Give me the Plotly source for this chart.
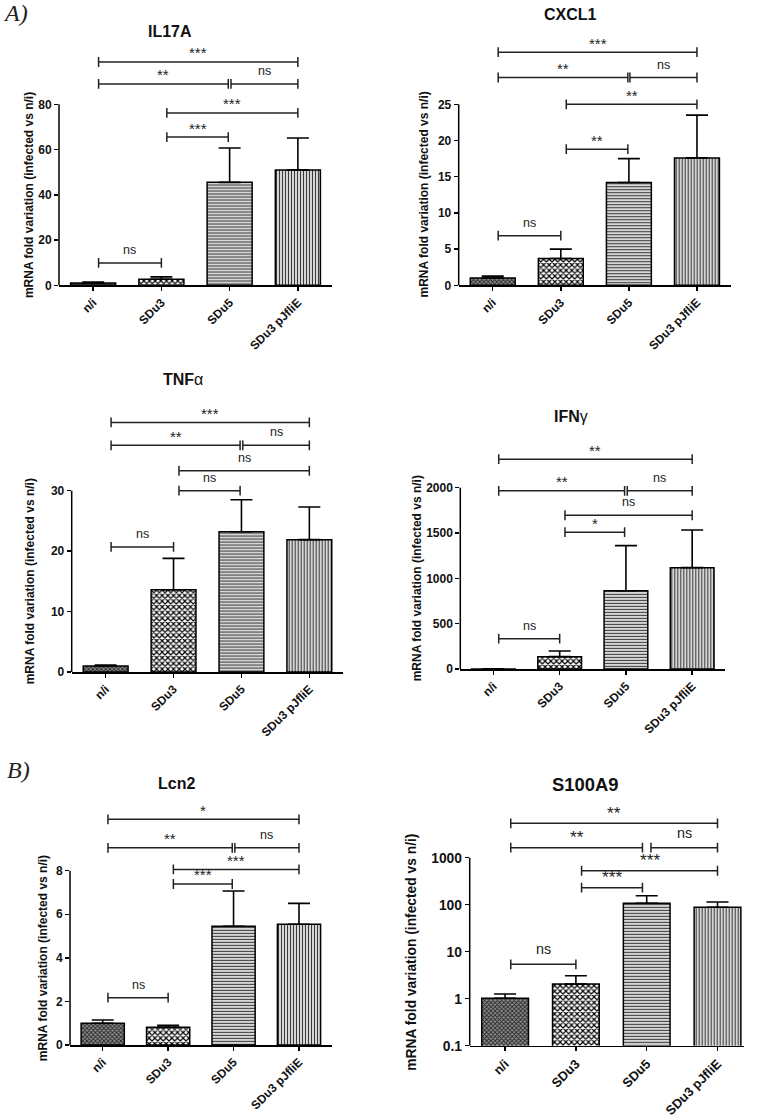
import numpy as np
import plotly.graph_objects as go

W, H = 764, 1120

categories = ["n/i", "SDu3", "SDu5", "SDu3 pJfliE"]

# bar means and SEM (upper error only)
il17a_mean = [1.0, 2.7, 45.5, 51.0]
il17a_sem = [0.4, 1.0, 15.2, 14.1]
cxcl1_mean = [1.0, 3.7, 14.2, 17.6]
cxcl1_sem = [0.27, 1.3, 3.3, 5.9]
tnfa_mean = [1.0, 13.6, 23.2, 21.9]
tnfa_sem = [0.15, 5.2, 5.3, 5.4]
ifng_mean = [1.0, 136, 864, 1118]
ifng_sem = [0.3, 63, 497, 416]
lcn2_mean = [1.0, 0.81, 5.45, 5.54]
lcn2_sem = [0.15, 0.09, 1.62, 0.96]
s100a9_mean = [1.02, 2.06, 107, 88]
s100a9_sem = [0.24, 1.02, 48, 26]

# y tick values
il17a_ticks = [0, 20, 40, 60, 80]
cxcl1_ticks = [0, 5, 10, 15, 20, 25]
tnfa_ticks = [0, 10, 20, 30]
ifng_ticks = [0, 500, 1000, 1500, 2000]
lcn2_ticks = [0, 2, 4, 6, 8]
s100a9_ticks = [0.1, 1, 10, 100, 1000]
s100a9_ticktext = ["0.1", "1", "10", "100", "1000"]

# significance comparisons (group pairs shared by all panels)
sig_pairs = [(0, 3), (0, 2), (2, 3), (1, 3), (1, 2), (0, 1)]
il17a_sig_y = [98.7, 89.0, 89.0, 76.2, 65.5, 9.9]
il17a_sig = ["***", "**", "ns", "***", "***", "ns"]
cxcl1_sig_y = [32.2, 28.7, 28.7, 25.0, 18.8, 6.85]
cxcl1_sig = ["***", "**", "ns", "**", "**", "ns"]
tnfa_sig_y = [41.3, 37.5, 37.5, 33.3, 30.0, 20.7]
tnfa_sig = ["***", "**", "ns", "ns", "ns", "ns"]
ifng_sig_y = [2315, 1965, 1965, 1696, 1509, 334]
ifng_sig = ["**", "**", "ns", "ns", "*", "ns"]
lcn2_sig_y = [10.36, 9.05, 9.05, 8.06, 7.39, 2.17]
lcn2_sig = ["*", "**", "ns", "***", "***", "ns"]
s100a9_sig_y = [5395, 1633, 1633, 528, 230, 5.4]
s100a9_sig = ["**", "**", "ns", "***", "***", "ns"]

SANS = "Liberation Sans, Arial, sans-serif"
SERIF = "Liberation Serif, Times New Roman, serif"

# panel geometry in pixels (left, right, y of zero/bottom, y of top tick)
panels = [
    dict(title="IL17A", mean=il17a_mean, sem=il17a_sem, ticks=il17a_ticks, ticktext=None,
         sig_y=il17a_sig_y, sig=il17a_sig, log=False,
         xpx=(59, 332), ybot=285.3, ytop=104.3, rtop=102, xr=(-0.5, 3.5),
         tpos=(170, 31), ytx=29.3, s=1.0, gap=0.02),
    dict(title="CXCL1", mean=cxcl1_mean, sem=cxcl1_sem, ticks=cxcl1_ticks, ticktext=None,
         sig_y=cxcl1_sig_y, sig=cxcl1_sig, log=False,
         xpx=(458.7, 731), ybot=285.3, ytop=104.3, rtop=33.3, xr=(-0.5, 3.5),
         tpos=(570.3, 15), ytx=423.7, s=1.0, gap=0.015),
    dict(title="TNF<span style='font-weight:normal'>α</span>", mean=tnfa_mean, sem=tnfa_sem, ticks=tnfa_ticks, ticktext=None,
         sig_y=tnfa_sig_y, sig=tnfa_sig, log=False,
         xpx=(71.7, 343.3), ybot=672, ytop=490.7, rtop=42.6, xr=(-0.5, 3.5),
         tpos=(183, 379), ytx=30, s=1.0, gap=0.02),
    dict(title="IFN<span style='font-weight:normal'>γ</span>", mean=ifng_mean, sem=ifng_sem, ticks=ifng_ticks, ticktext=None,
         sig_y=ifng_sig_y, sig=ifng_sig, log=False,
         xpx=(460.3, 725.3), ybot=669, ytop=487.7, rtop=2395, xr=(-0.5, 3.5),
         tpos=(571.3, 416.7), ytx=417, s=1.0, gap=0.02),
    dict(title="Lcn2", mean=lcn2_mean, sem=lcn2_sem, ticks=lcn2_ticks, ticktext=None,
         sig_y=lcn2_sig_y, sig=lcn2_sig, log=False,
         xpx=(70, 331.7), ybot=1045, ytop=870.7, rtop=10.7, xr=(-0.5, 3.5),
         tpos=(176.7, 783.3), ytx=43.3, s=1.0, gap=0.02),
    dict(title="S100A9", mean=s100a9_mean, sem=s100a9_sem, ticks=s100a9_ticks, ticktext=s100a9_ticktext,
         sig_y=s100a9_sig_y, sig=s100a9_sig, log=True,
         xpx=(469.7, 743.7), ybot=1045.7, ytop=857.7, rtop=3.89, xr=(-0.5, 3.37),
         tpos=(585.3, 784.3), ytx=412, s=1.15, gap=0.06),
]

# fill pattern per group: n/i, SDu3, SDu5, SDu3 pJfliE
bar_patterns = [
    dict(shape="x", size=3, solidity=0.5, fgcolor="#262626", bgcolor="#8e8e8e", fillmode="replace"),
    dict(shape="x", size=4, solidity=0.5, fgcolor="#000000", bgcolor="#ffffff", fillmode="replace"),
    dict(shape="-", size=3, solidity=0.4, fgcolor="#3c3c3c", bgcolor="#e6e6e6", fillmode="replace"),
    dict(shape="|", size=3, solidity=0.4, fgcolor="#3c3c3c", bgcolor="#e6e6e6", fillmode="replace"),
]

fig = go.Figure()
layout = dict(width=W, height=H, margin=dict(l=0, r=0, t=0, b=0, pad=0), autosize=False,
              paper_bgcolor="white", plot_bgcolor="white", showlegend=False,
              barmode="overlay", template="none")
annotations = []
shapes = []


def px2fx(x):
    return x / W


def px2fy(y):
    return 1 - y / H


for i, p in enumerate(panels):
    n = i + 1
    xa = "x" if n == 1 else f"x{n}"
    ya = "y" if n == 1 else f"y{n}"
    xname = "xaxis" if n == 1 else f"xaxis{n}"
    yname = "yaxis" if n == 1 else f"yaxis{n}"
    s = p["s"]
    t = (lambda v: np.log10(v)) if p["log"] else (lambda v: v)
    r0 = t(p["ticks"][0])
    rt = t(p["ticks"][-1])
    scale = (p["ybot"] - p["ytop"]) / (rt - r0)
    top_px = p["ybot"] - (p["rtop"] - r0) * scale
    ydom = [px2fy(p["ybot"]), px2fy(top_px)]
    xdom = [px2fx(p["xpx"][0]), px2fx(p["xpx"][1])]

    xpos = list(range(len(categories)))
    for k in xpos:
        fig.add_trace(go.Bar(
            x=[k], y=[p["mean"][k]], xaxis=xa, yaxis=ya, width=0.66,
            marker=dict(color=bar_patterns[k]["bgcolor"], line=dict(color="black", width=1.5),
                        pattern=bar_patterns[k]),
            error_y=dict(type="data", array=[p["sem"][k]], arrayminus=[0], symmetric=False,
                         color="black", thickness=1.6, width=11),
            hoverinfo="skip",
        ))

    # significance brackets
    bx, by = [], []
    for (a, b), yv, lab in zip(sig_pairs, p["sig_y"], p["sig"]):
        x0 = a + (0.08 if a < 2 else p["gap"])
        x1 = b - p["gap"] if b == 2 else b
        bx += [x0, x1, None]
        by += [yv, yv, None]
        star = "*" in lab
        fs = (15 if star else 12.5) * s
        ysh = (9 if star else 13) * s
        annotations.append(dict(
            x=(x0 + x1) / 2, y=t(yv), xref=xa, yref=ya, text=lab, showarrow=False,
            xanchor="center", yanchor="middle", yshift=ysh,
            font=dict(family=SANS, size=fs, color="#222")))
    fig.add_trace(go.Scatter(
        x=bx, y=by, xaxis=xa, yaxis=ya, mode="lines+markers",
        line=dict(color="#222", width=1.5),
        marker=dict(symbol="line-ns", size=7, line=dict(color="#222", width=1.5)),
        hoverinfo="skip"))

    layout[xname] = dict(domain=xdom, anchor=ya, range=list(p["xr"]), tickvals=xpos,
                         ticktext=categories, tickangle=-45, showline=True, linecolor="black",
                         linewidth=1.5, ticks="outside", ticklen=4, tickwidth=1.5,
                         tickcolor="black", showgrid=False, zeroline=False, automargin=False,
                         tickfont=dict(family=SANS, size=(12 if s == 1 else 13), color="#111",
                                       weight="bold"))
    ya_d = dict(domain=ydom, anchor=xa, showline=False, ticks="outside", ticklen=4,
                tickwidth=1.5, tickcolor="black", showgrid=False, zeroline=False,
                tickvals=p["ticks"], automargin=False,
                tickfont=dict(family=SANS, size=12 * s, color="#111", weight="bold"))
    if p["log"]:
        ya_d.update(type="log", range=[r0, p["rtop"]], ticktext=p["ticktext"])
    else:
        ya_d.update(range=[r0, p["rtop"]])
    layout[yname] = ya_d

    # y axis line only up to the top tick
    frac = (rt - r0) / (p["rtop"] - r0)
    shapes.append(dict(type="line", xref=f"{xa} domain", yref=f"{ya} domain",
                       x0=0, x1=0, y0=0, y1=frac, line=dict(color="black", width=1.5)))

    # panel title
    annotations.append(dict(x=px2fx(p["tpos"][0]), y=px2fy(p["tpos"][1]), xref="paper", yref="paper",
                            text=p["title"], showarrow=False, xanchor="center", yanchor="middle",
                            font=dict(family=SANS, size=16 * s, color="#111", weight="bold")))
    # y axis title centred on the tick span
    annotations.append(dict(x=px2fx(p["ytx"]), y=px2fy((p["ybot"] + p["ytop"]) / 2),
                            xref="paper", yref="paper", text="mRNA fold variation (infected vs n/i)",
                            showarrow=False, textangle=-90, xanchor="center", yanchor="middle",
                            font=dict(family=SANS, size=12 * s, color="#111", weight="bold")))

annotations.append(dict(x=px2fx(15), y=px2fy(13), xref="paper", yref="paper", text="<i>A)</i>",
                        showarrow=False, xanchor="center", yanchor="middle",
                        font=dict(family=SERIF, size=24, color="#222")))
annotations.append(dict(x=px2fx(18), y=px2fy(770), xref="paper", yref="paper", text="<i>B)</i>",
                        showarrow=False, xanchor="center", yanchor="middle",
                        font=dict(family=SERIF, size=24, color="#222")))

layout["annotations"] = annotations
layout["shapes"] = shapes
fig.update_layout(**layout)
fig.write_html("out.html", config={"displayModeBar": False, "staticPlot": True},
               post_script="document.body.style.margin='0';document.body.style.padding='0';")
